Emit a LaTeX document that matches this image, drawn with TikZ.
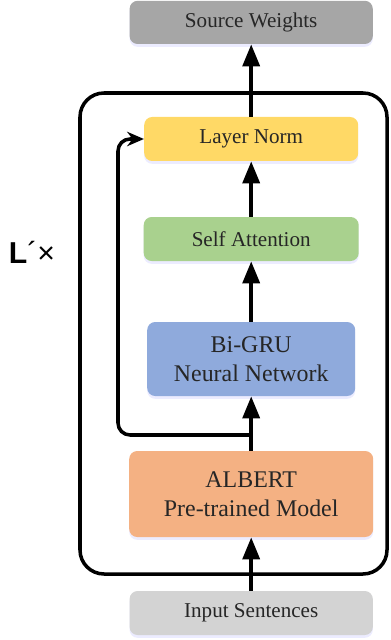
\documentclass[tikz,border=0pt]{standalone}
\usepackage{fontspec}
\setmainfont{Liberation Serif}
\newfontfamily\labelfont{Liberation Sans}
\usetikzlibrary{arrows.meta,shadows}

\definecolor{weightgray}{HTML}{A6A6A6}
\definecolor{inputgray}{HTML}{D3D3D3}
\definecolor{normyellow}{HTML}{FFD966}
\definecolor{attgreen}{HTML}{A9D18E}
\definecolor{grublue}{HTML}{8FAADC}
\definecolor{albertorange}{HTML}{F4B183}

\tikzset{
  block/.style={draw=none, rounded corners=0.2cm, align=center, inner sep=0pt,
    text=black!85, font=\fontsize{15}{18}\selectfont,
    drop shadow={shadow xshift=0pt, shadow yshift=-0.07cm, opacity=0.3, fill=blue!25}},
  bigblock/.style={block, font=\fontsize{17}{20.5}\selectfont},
  flow/.style={line width=2.8pt, -{Triangle[length=0.55cm,width=0.42cm]}},
}

\begin{document}
\begin{tikzpicture}
    \useasboundingbox (0,0) rectangle (9.75,-16);
    % repeated layer
    \draw[line width=2.5pt, rounded corners=0.6cm] (2.0,-2.325) rectangle (9.675,-14.35);
    \node[font=\labelfont\fontsize{21.5}{24}\selectfont] at (0.8,-6.3) (rep) {\textbf{L}´×};

    \node [block, fill=weightgray, minimum width=6.08cm, minimum height=1.08cm] at (6.28,-0.56) (src) {Source Weights};
    \node [block, fill=normyellow, minimum width=5.35cm, minimum height=1.1cm] at (6.28,-3.475) (norm) {Layer Norm};
    \node [block, fill=attgreen, minimum width=5.375cm, minimum height=1.1cm] at (6.28,-5.975) (att) {Self Attention};
    \node [bigblock, fill=grublue, minimum width=5.2cm, minimum height=1.85cm] at (6.28,-8.975) (gru) {Bi-GRU\\Neural Network};
    \node [bigblock, fill=albertorange, minimum width=6.1cm, minimum height=2.15cm] at (6.28,-12.35) (albert) {ALBERT\\Pre-trained Model};
    \node [block, fill=inputgray, minimum width=6.08cm, minimum height=1.1cm] at (6.28,-15.325) (inp) {Input Sentences};

    \coordinate (fork) at (6.28,-10.875);
    \coordinate (skip) at (2.95,-10.875);

    \path [draw, flow] (inp) -- (albert);
    \path [draw, flow] (albert) -- (gru);
    \path [draw, flow] (gru) -- (att);
    \path [draw, flow] (att) -- (norm);
    \path [draw, flow] (norm) -- (src);
    \path [draw, line width=2.5pt, rounded corners=0.3cm, -{Stealth[length=0.42cm,width=0.36cm]}] (fork) -- (skip) |- (norm.west);
\end{tikzpicture}
\end{document}
